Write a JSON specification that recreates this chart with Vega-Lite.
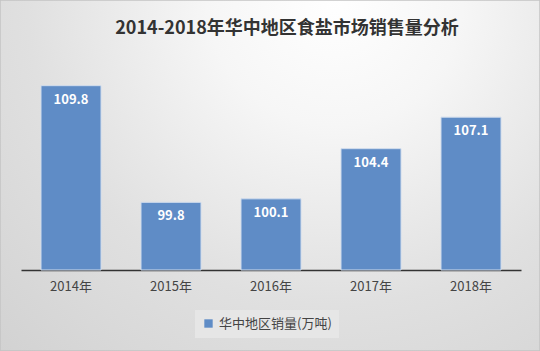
{
  "$schema": "https://vega.github.io/schema/vega-lite/v6.json",
  "width": 540,
  "height": 351,
  "autosize": {"type": "none"},
  "padding": 0,
  "background": "#dcdcdc",
  "title": {
    "text": "2014-2018年华中地区食盐市场销售量分析",
    "font": "Noto Sans CJK SC",
    "fontSize": 18,
    "fontWeight": "bold",
    "color": "#333333",
    "anchor": "middle",
    "dx": 17,
    "offset": -38
  },
  "data": {
    "values": [
      {"year": "2014年", "value": 109.8, "series": "华中地区销量(万吨)"},
      {"year": "2015年", "value": 99.8, "series": "华中地区销量(万吨)"},
      {"year": "2016年", "value": 100.1, "series": "华中地区销量(万吨)"},
      {"year": "2017年", "value": 104.4, "series": "华中地区销量(万吨)"},
      {"year": "2018年", "value": 107.1, "series": "华中地区销量(万吨)"}
    ]
  },
  "config": {
    "view": {
      "stroke": "#c4c4c4",
      "strokeWidth": 1.5,
      "fill": {
        "gradient": "radial",
        "x1": 0.62, "y1": 0.17, "r1": 0,
        "x2": 0.62, "y2": 0.17, "r2": 0.95,
        "stops": [
          {"offset": 0, "color": "#ffffff"},
          {"offset": 0.25, "color": "#f6f6f6"},
          {"offset": 0.6, "color": "#e0e0e0"},
          {"offset": 1, "color": "#d0d0d0"}
        ]
      }
    }
  },
  "encoding": {
    "x": {
      "field": "year",
      "type": "nominal",
      "sort": null,
      "scale": {"paddingInner": 0.4, "paddingOuter": 0.2, "range": [21, 521]},
      "axis": {
        "title": null,
        "labelAngle": 0,
        "labelFont": "Noto Sans CJK SC",
        "labelFontSize": 13,
        "labelColor": "#444444",
        "labelPadding": 10,
        "ticks": false,
        "offset": -81,
        "domainColor": "#333333",
        "domainWidth": 1.5
      }
    },
    "y": {
      "field": "value",
      "type": "quantitative",
      "scale": {"domain": [94, 112], "zero": false, "range": [270, 60]},
      "axis": null
    }
  },
  "layer": [
    {
      "mark": {"type": "bar", "stroke": "#d0dced", "strokeWidth": 1, "clip": true},
      "encoding": {
        "y2": {"datum": 94},
        "color": {
          "field": "series",
          "type": "nominal",
          "scale": {"range": ["#5f8cc6"]},
          "legend": {
            "title": null,
            "orient": "none",
            "legendX": 195,
            "legendY": 310,
            "direction": "horizontal",
            "symbolType": "square",
            "symbolSize": 70,
            "symbolStrokeWidth": 0,
            "labelFont": "Noto Sans CJK SC",
            "labelFontSize": 13,
            "labelColor": "#444444",
            "padding": 7,
            "fillColor": "#e6e6e6",
            "strokeColor": null
          }
        }
      }
    },
    {
      "mark": {
        "type": "text",
        "baseline": "top",
        "dy": 8,
        "color": "white",
        "font": "Noto Sans CJK SC",
        "fontSize": 13,
        "fontWeight": "bold"
      },
      "encoding": {
        "text": {"field": "value", "type": "quantitative", "format": ".1f"}
      }
    }
  ]
}
